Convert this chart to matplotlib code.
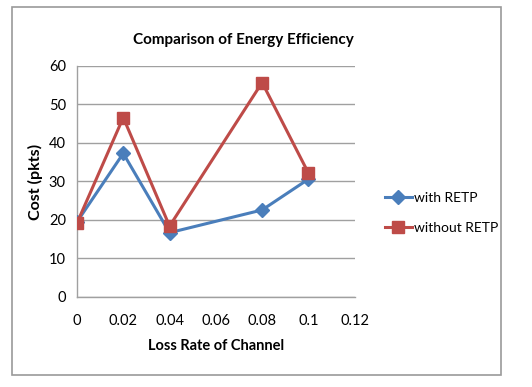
import matplotlib
matplotlib.use("Agg")
import matplotlib.pyplot as plt
from matplotlib.patches import Rectangle

loss_rate = [0, 0.02, 0.04, 0.08, 0.1]
with_retp = [19.5, 37.3, 16.7, 22.6, 30.6]
without_retp = [19.2, 46.6, 18.4, 55.7, 32.2]
x_ticks = [0, 0.02, 0.04, 0.06, 0.08, 0.1, 0.12]
x_tick_labels = ["0", "0.02", "0.04", "0.06", "0.08", "0.1", "0.12"]
y_ticks = [0, 10, 20, 30, 40, 50, 60]

plt.rcParams['font.family'] = ['Lato', 'DejaVu Sans']

fig = plt.figure(figsize=(5.32, 3.87), dpi=100)
fig.patch.set_facecolor('white')
fig.add_artist(Rectangle((0.0226, 0.031), 0.919, 0.951, transform=fig.transFigure,
                         fill=False, edgecolor='#9a9a9a', linewidth=1.2))

ax = fig.add_axes([0.1447, 0.2326, 0.522, 0.597])
blue = '#4A7EBB'
red = '#BE4B48'
ax.plot(loss_rate, with_retp, color=blue, linewidth=2.2, marker='D', markersize=7,
        label='with RETP', zorder=3)
ax.plot(loss_rate, without_retp, color=red, linewidth=2.2, marker='s', markersize=9,
        label='without RETP', zorder=4)

ax.set_xlim(0, 0.12)
ax.set_ylim(0, 60)
ax.set_xticks(x_ticks)
ax.set_xticklabels(x_tick_labels)
ax.set_yticks(y_ticks)
ax.tick_params(length=0, labelsize=10.5, pad=8)
ax.tick_params(axis='x', pad=12)
ax.grid(axis='y', color='#a0a0a0', linewidth=1.0)
ax.set_axisbelow(True)
for s in ['top', 'right']:
    ax.spines[s].set_visible(False)
for s in ['left', 'bottom']:
    ax.spines[s].set_color('#a0a0a0')
    ax.spines[s].set_linewidth(1.0)

fig.text(0.457, 1 - 40 / 387, 'Comparison of Energy Efficiency', fontsize=11,
         fontweight='bold', ha='center', va='center')
ax.set_xlabel('Loss Rate of Channel', fontsize=10.5, fontweight='bold', labelpad=8)
ax.set_ylabel('Cost (pkts)', fontsize=11.5, fontweight='bold', labelpad=4)

ax.legend(loc='center left', bbox_to_anchor=(1.065, 0.365), frameon=False,
          fontsize=10, handlelength=1.9, labelspacing=1.3, handletextpad=0.15)

fig.savefig('out.png', dpi=100)
